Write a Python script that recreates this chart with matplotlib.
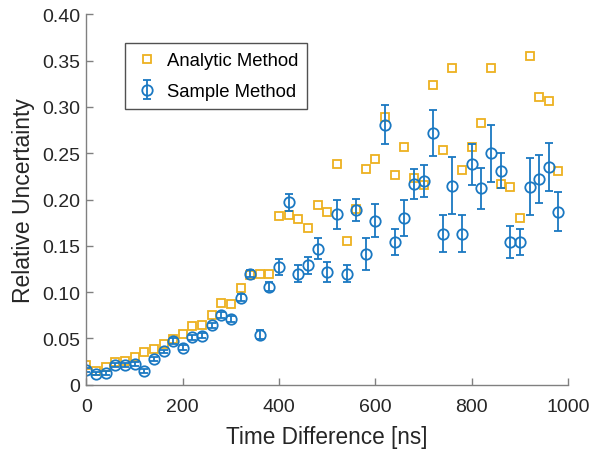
import matplotlib
matplotlib.use("Agg")
import matplotlib.pyplot as plt
from matplotlib.ticker import FuncFormatter
import numpy as np

plt.rcParams['font.family'] = ['Liberation Sans', 'DejaVu Sans']

# time difference in ns (20 ns steps)
time_ns = np.arange(0, 1000, 20)

analytic = [0.021, 0.015, 0.019, 0.025, 0.026, 0.030, 0.035, 0.039, 0.044, 0.049,
            0.055, 0.063, 0.065, 0.075, 0.088, 0.087, 0.104, 0.119, 0.120, 0.120,
            0.182, 0.183, 0.179, 0.169, 0.194, 0.186, 0.238, 0.155, 0.190, 0.233,
            0.244, 0.289, 0.227, 0.257, 0.223, 0.216, 0.324, 0.254, 0.342, 0.232,
            0.257, 0.283, 0.342, 0.217, 0.213, 0.180, 0.355, 0.311, 0.306, 0.231]

sample = [0.016, 0.012, 0.013, 0.021, 0.021, 0.022, 0.015, 0.028, 0.036, 0.047,
          0.040, 0.051, 0.053, 0.064, 0.075, 0.071, 0.094, 0.120, 0.054, 0.106,
          0.127, 0.197, 0.120, 0.129, 0.147, 0.122, 0.184, 0.120, 0.189, 0.141,
          0.177, 0.281, 0.154, 0.180, 0.217, 0.220, 0.272, 0.163, 0.215, 0.163,
          0.238, 0.212, 0.250, 0.231, 0.154, 0.154, 0.214, 0.222, 0.235, 0.187]

sample_err = [0.002, 0.002, 0.002, 0.002, 0.002, 0.002, 0.002, 0.002, 0.002, 0.003,
              0.003, 0.003, 0.003, 0.003, 0.003, 0.003, 0.004, 0.004, 0.005, 0.005,
              0.009, 0.009, 0.009, 0.009, 0.011, 0.011, 0.016, 0.009, 0.012, 0.017,
              0.018, 0.021, 0.014, 0.019, 0.016, 0.017, 0.025, 0.020, 0.031, 0.020,
              0.022, 0.022, 0.031, 0.019, 0.017, 0.014, 0.031, 0.026, 0.026, 0.021]

blue = '#1a78c2'
orange = '#EDB120'
axis_grey = '#808080'
text_col = '#262626'

fig = plt.figure(figsize=(6.03, 4.52), dpi=100)
ax = fig.add_axes([0.1434, 0.1467, 0.7986, 0.8194])

ax.plot(time_ns, analytic, linestyle='none', marker='s', markersize=6,
        markerfacecolor='none', markeredgecolor=orange, markeredgewidth=1.3,
        label='Analytic Method')
ax.errorbar(time_ns, sample, yerr=sample_err, fmt='o', markersize=7.5,
            markerfacecolor='none', markeredgecolor=blue, markeredgewidth=1.3,
            ecolor=blue, elinewidth=1.3, capsize=2.6, capthick=1.3,
            label='Sample Method')

ax.set_xlim(0, 1000)
ax.set_ylim(0, 0.40)
ax.set_xticks(np.arange(0, 1001, 200))
ax.set_yticks(np.arange(0, 0.401, 0.05))
ax.yaxis.set_major_formatter(FuncFormatter(lambda v, p: '0' if v == 0 else f'{v:.2f}'))

for s in ['top', 'right']:
    ax.spines[s].set_visible(False)
for s in ['left', 'bottom']:
    ax.spines[s].set_color(axis_grey)
    ax.spines[s].set_linewidth(1.0)
ax.tick_params(direction='in', length=5, width=1.0, color=axis_grey,
               labelsize=14, labelcolor=text_col)
ax.tick_params(axis='x', pad=9.5)
ax.tick_params(axis='y', pad=4.5)

ax.set_xlabel('Time Difference [ns]', fontsize=16.3, color=text_col, labelpad=7)
ax.set_ylabel('Relative Uncertainty', fontsize=16.5, color=text_col, labelpad=5)

leg = ax.legend(loc='upper left', bbox_to_anchor=(0.08, 0.9225), borderaxespad=0,
                fontsize=13.3, frameon=True, fancybox=False, edgecolor=text_col,
                borderpad=0.5, handlelength=1.4, handletextpad=0.35,
                labelspacing=0.75)
leg.get_frame().set_linewidth(1.0)

fig.savefig('out.png', dpi=100)
